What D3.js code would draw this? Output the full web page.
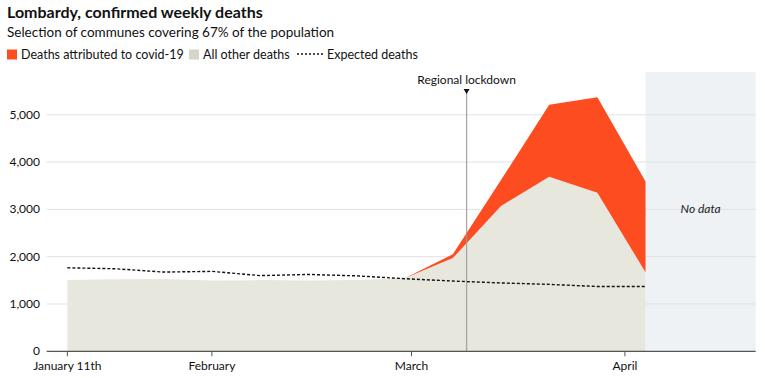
<!DOCTYPE html>
<html>
<head>
<meta charset="utf-8">
<script src="https://cdn.jsdelivr.net/npm/d3@7"></script>
<style>
  html, body { margin: 0; padding: 0; background: #fff; }
  svg { display: block; font-family: Lato, "Open Sans", sans-serif; }
</style>
</head>
<body>
<svg id="chart" width="765" height="378"></svg>
<script>
// ---- Data ----
const weeks = ["2020-01-11","2020-01-18","2020-01-25","2020-02-01","2020-02-08","2020-02-15","2020-02-22","2020-02-29","2020-03-07","2020-03-14","2020-03-21","2020-03-28","2020-04-04"];
const otherDeaths = [1510, 1525, 1530, 1495, 1505, 1495, 1505, 1545, 1970, 3070, 3690, 3350, 1670];
const covidDeaths = [0, 0, 0, 0, 0, 0, 0, 0, 80, 550, 1520, 2020, 1920];
const expectedDeaths = [1765, 1745, 1675, 1690, 1600, 1625, 1595, 1535, 1485, 1445, 1415, 1370, 1370];
const yTicks = [0, 1000, 2000, 3000, 4000, 5000];
const xTickDates = ["2020-01-11","2020-02-01","2020-03-01","2020-04-01"];
const xTickLabels = ["January 11th","February","March","April"];
const lockdownDate = "2020-03-09";
const noDataRange = ["2020-04-04","2020-04-20"];
const domainDates = ["2020-01-08","2020-04-20"];

const parse = d3.utcParse("%Y-%m-%d");
const svg = d3.select("#chart");

const x = d3.scaleUtc().domain(domainDates.map(parse)).range([46.7, 755.7]);
const y = d3.scaleLinear().domain([0, 5000]).range([351.3, 114.8]);

const data = weeks.map((w, i) => ({
  date: parse(w), other: otherDeaths[i], covid: covidDeaths[i], expected: expectedDeaths[i]
}));

// No data region
svg.append("rect")
  .attr("x", x(parse(noDataRange[0])))
  .attr("y", 72)
  .attr("width", x(parse(noDataRange[1])) - x(parse(noDataRange[0])))
  .attr("height", y(0) - 72)
  .attr("fill", "#EEF2F5");

// Gridlines
svg.append("g").selectAll("line").data(yTicks.filter(d => d > 0)).join("line")
  .attr("x1", 46.7).attr("x2", 755.7)
  .attr("y1", d => y(d)).attr("y2", d => y(d))
  .attr("stroke", "#DCE3E8").attr("stroke-width", 1);

// Y labels
svg.append("g").selectAll("text").data(yTicks).join("text")
  .attr("x", 40).attr("y", d => y(d) + 4)
  .attr("text-anchor", "end")
  .attr("font-size", 12).attr("fill", "#111")
  .text(d => d3.format(",")(d));

// Areas
const areaOther = d3.area().x(d => x(d.date)).y0(y(0)).y1(d => y(d.other));
const areaCovid = d3.area().x(d => x(d.date)).y0(d => y(d.other)).y1(d => y(d.other + d.covid));

svg.append("path").datum(data).attr("d", areaOther).attr("fill", "#E8E7DD");
svg.append("path").datum(data.slice(7)).attr("d", areaCovid).attr("fill", "#FC4C20");

// Lockdown line
const lx = x(parse(lockdownDate));
svg.append("line")
  .attr("x1", lx).attr("x2", lx).attr("y1", 90).attr("y2", y(0))
  .attr("stroke", "#999").attr("stroke-opacity", 0.85).attr("stroke-width", 1.3);
svg.append("path")
  .attr("d", `M${lx-3},89 L${lx+3},89 L${lx},94 Z`)
  .attr("fill", "#111");
svg.append("text")
  .attr("x", lx).attr("y", 84)
  .attr("text-anchor", "middle").attr("font-size", 12).attr("fill", "#111")
  .text("Regional lockdown");

// Expected line
svg.append("path").datum(data)
  .attr("d", d3.line().x(d => x(d.date)).y(d => y(d.expected)))
  .attr("fill", "none").attr("stroke", "#111").attr("stroke-width", 1.4)
  .attr("stroke-dasharray", "3,2");

// No data label
svg.append("text")
  .attr("x", (x(parse(noDataRange[0])) + x(parse(noDataRange[1]))) / 2)
  .attr("y", 213)
  .attr("text-anchor", "middle").attr("font-size", 12).attr("font-style", "italic").attr("fill", "#222")
  .text("No data");

// X axis
svg.append("line")
  .attr("x1", 46.7).attr("x2", 755.7).attr("y1", y(0)).attr("y2", y(0))
  .attr("stroke", "#555").attr("stroke-width", 1.2);
const xt = svg.append("g").selectAll("g").data(xTickDates.map((d, i) => ({d: parse(d), label: xTickLabels[i]}))).join("g");
xt.append("line")
  .attr("x1", d => x(d.d)).attr("x2", d => x(d.d))
  .attr("y1", y(0)).attr("y2", y(0) + 5)
  .attr("stroke", "#555").attr("stroke-width", 1);
xt.append("text")
  .attr("x", d => x(d.d)).attr("y", 369.5)
  .attr("text-anchor", "middle").attr("font-size", 12).attr("fill", "#111")
  .text(d => d.label);

// Title & subtitle
svg.append("text").attr("x", 7).attr("y", 18)
  .attr("font-size", 16).attr("font-weight", "bold").attr("fill", "#111")
  .text("Lombardy, confirmed weekly deaths");
svg.append("text").attr("x", 7).attr("y", 37)
  .attr("font-size", 13.5).attr("fill", "#111")
  .text("Selection of communes covering 67% of the population");

// Legend
const lg = svg.append("g");
lg.append("rect").attr("x", 7).attr("y", 49.5).attr("width", 10).attr("height", 10).attr("fill", "#FC4C20");
lg.append("text").attr("x", 21).attr("y", 59).attr("font-size", 12.5).attr("fill", "#111").text("Deaths attributed to covid-19");
lg.append("rect").attr("x", 189).attr("y", 49.5).attr("width", 10).attr("height", 10).attr("fill", "#D6D5CC");
lg.append("text").attr("x", 203).attr("y", 59).attr("font-size", 12.5).attr("fill", "#111").text("All other deaths");
lg.append("line").attr("x1", 297).attr("x2", 323).attr("y1", 54).attr("y2", 54)
  .attr("stroke", "#111").attr("stroke-width", 1.6).attr("stroke-dasharray", "2,2");
lg.append("text").attr("x", 327).attr("y", 59).attr("font-size", 12.5).attr("fill", "#111").text("Expected deaths");
</script>
</body>
</html>
